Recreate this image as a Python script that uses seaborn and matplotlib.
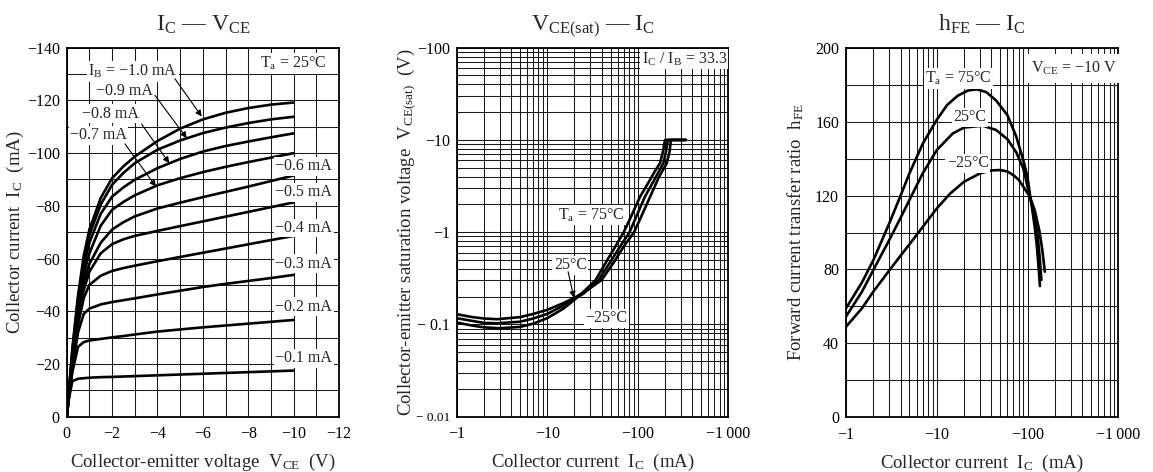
import numpy as np
import pandas as pd
import matplotlib
matplotlib.use("Agg")
import matplotlib.pyplot as plt
import seaborn as sns

# ---------------- data ----------------
# Left panel: IC - VCE (magnitudes; plotted as negative values)
vce = [0, 0.1, 0.25, 0.5, 0.75, 1, 1.5, 2, 2.5, 3, 4, 5, 6, 7, 8, 9, 10]
ib_labels = ["-1.0", "-0.9", "-0.8", "-0.7", "-0.6", "-0.5", "-0.4", "-0.3", "-0.2", "-0.1"]
ic_ib10 = [0, 10, 26, 46, 61, 71, 83, 90.5, 95, 98.7, 104.6, 109.3, 112.8, 115.3, 117.1, 118.4, 119.2]
ic_ib09 = [0, 10, 25, 45, 59, 69, 80.5, 88, 92.5, 96.2, 101.3, 104.8, 107.6, 109.7, 111.4, 112.8, 113.8]
ic_ib08 = [0, 9.5, 24, 43.5, 57, 66, 77, 83.5, 87, 89.9, 94.3, 97.8, 100.6, 102.7, 104.4, 106, 107.5]
ic_ib07 = [0, 9, 23, 42, 54, 62, 72.5, 78.5, 81.5, 84, 87.8, 90.5, 92.8, 94.8, 96.6, 98.3, 100]
ic_ib06 = [0, 9, 22, 40, 51, 58, 66, 71, 73.8, 76, 79, 81.2, 83.3, 85.3, 87.3, 89.4, 91.5]
ic_ib05 = [0, 8.5, 21, 38, 48, 55, 62, 65.5, 67.3, 68.6, 70.5, 72.3, 74.1, 75.9, 77.7, 79.5, 81.3]
ic_ib04 = [0, 8, 19.5, 35, 45, 50, 53.5, 55.3, 56.4, 57.3, 59, 60.6, 62.2, 63.8, 65.4, 67, 68.6]
ic_ib03 = [0, 8, 18.5, 32, 39, 41, 42.6, 43.5, 44.2, 44.9, 46.4, 47.8, 49.2, 50.4, 51.5, 52.6, 53.8]
ic_ib02 = [0, 7.5, 17, 26.5, 28.3, 28.9, 29.5, 30.1, 30.6, 31.2, 32.3, 33.1, 33.9, 34.6, 35.3, 36, 36.7]
ic_ib01 = [0, 7, 13.5, 14.4, 14.6, 14.8, 15.0, 15.1, 15.25, 15.4, 15.7, 16, 16.3, 16.6, 16.9, 17.2, 17.5]

# Middle panel: VCE(sat) - IC (magnitudes)
sat_ic_75 = [1, 1.5, 2, 3, 5, 7, 10, 15, 20, 25, 34, 45, 58, 70, 85, 106, 130, 155, 176, 190, 200, 340]
sat_v_75 = [0.105, 0.097, 0.093, 0.091, 0.094, 0.102, 0.117, 0.148, 0.185, 0.225, 0.30, 0.48, 0.73,
            1.0, 1.5, 2.43, 3.4, 4.6, 5.6, 7.5, 10, 10]
sat_ic_25 = [1, 1.5, 2, 2.8, 5, 7, 10, 15, 20, 25, 37, 50, 65, 81, 100, 120, 150, 192, 205, 215, 340]
sat_v_25 = [0.117, 0.109, 0.104, 0.103, 0.107, 0.116, 0.130, 0.160, 0.190, 0.215, 0.304, 0.48, 0.72,
            1.0, 1.61, 2.43, 3.6, 5.6, 7.5, 10, 10]
sat_ic_m25 = [1, 1.5, 2, 2.8, 5, 7, 10, 15, 20, 26, 40, 55, 70, 91, 110, 137, 170, 209, 225, 232, 340]
sat_v_m25 = [0.129, 0.120, 0.116, 0.114, 0.120, 0.130, 0.144, 0.170, 0.195, 0.225, 0.304, 0.48, 0.70,
             1.0, 1.5, 2.43, 3.9, 5.6, 7.5, 10, 10]

# Right panel: hFE - IC
hfe_ic_75 = [1, 1.5, 2, 3, 4, 5, 7, 10, 13, 17, 22, 27.5, 35, 45, 60, 75, 90, 100, 106, 113, 120, 127, 132, 137]
hfe_75 = [59, 73, 85, 105, 120, 132, 148, 161, 169, 174, 176.8, 177.5, 176, 171.5, 163.5, 152, 139, 130,
          121, 112, 103, 92, 82, 71]
hfe_ic_25 = [1, 1.5, 2, 3, 4, 5, 7, 10, 15, 20, 32, 45, 60, 75, 90, 106, 120, 130, 137, 142]
hfe_25 = [54.5, 68, 79.7, 96, 108, 117.6, 132, 144.6, 153.6, 156.8, 157.8, 155.5, 150.5, 143.5, 134.5,
          119.5, 109, 97, 85, 74.3]
hfe_ic_m25 = [1, 1.5, 2, 3, 4, 5, 7, 10, 14, 20, 30, 40, 50, 60, 70, 80, 90, 106, 120, 135, 145, 150, 155]
hfe_m25 = [49, 59, 68, 79.5, 87.5, 93.6, 103, 113, 121, 127.5, 132, 133.6, 133.8, 133, 131, 128.5, 124.8,
           119.4, 112, 101, 91, 85, 78.8]

# ---------------- style ----------------
sns.set_style("white")
plt.rcParams["font.family"] = ["Liberation Serif", "DejaVu Serif"]
plt.rcParams["mathtext.fontset"] = "stix"

W, H = 1153, 472
fig = plt.figure(figsize=(W / 100, H / 100), dpi=100)

GRID = dict(color="#1a1a1a", linewidth=0.75)
LW = 1.9
TICKFS = 11.5
LABFS = 13.5
TITLEFS = 17
BOX = dict(facecolor="white", edgecolor="none", pad=1.0)


def axes_px(x0, y0, x1, y1):
    return fig.add_axes([x0 / W, 1 - y1 / H, (x1 - x0) / W, (y1 - y0) / H])


def frame(ax):
    for s in ax.spines.values():
        s.set_visible(True)
        s.set_color("black")
        s.set_linewidth(1.3)
    ax.tick_params(which="both", length=0, labelsize=TICKFS, colors="black")
    ax.tick_params(axis="x", pad=7)
    ax.tick_params(axis="y", pad=5)


# ---------------- left panel ----------------
ax1 = axes_px(66.7, 47.7, 339, 416.7)
curves = [ic_ib10, ic_ib09, ic_ib08, ic_ib07, ic_ib06, ic_ib05, ic_ib04, ic_ib03, ic_ib02, ic_ib01]
rows = []
for lab, ic in zip(ib_labels, curves):
    for v, i in zip(vce, ic):
        rows.append({"curve": lab, "V": -v, "I": -i})
df1 = pd.DataFrame(rows)
sns.lineplot(data=df1, x="V", y="I", units="curve", estimator=None, color="black",
             linewidth=LW, ax=ax1, legend=False, zorder=3)
ax1.set_xlim(0, -12)
ax1.set_ylim(0, -140)
ax1.set_xticks(np.arange(0, -13, -1), minor=True)
ax1.set_yticks(np.arange(0, -141, -10), minor=True)
ax1.set_xticks(np.arange(0, -13, -2))
ax1.set_xticklabels(["0"] + [f"\u2212{k}" for k in range(2, 13, 2)])
ax1.set_yticks(np.arange(0, -141, -20))
ax1.set_yticklabels(["0"] + [f"\u2212{k}" for k in range(20, 141, 20)])
ax1.grid(True, which="both", **GRID)
ax1.set_axisbelow(True)
frame(ax1)
ax1.set_xlabel("Collector-emitter voltage  $\\mathregular{V_{CE}}$  (V)", fontsize=LABFS, labelpad=7)
ax1.set_ylabel("Collector current  $\\mathregular{I_C}$  (mA)", fontsize=LABFS, va="center")
ax1.yaxis.set_label_coords(-0.19, 0.5)
ax1.set_title("$\\mathregular{I_C}$ \u2014 $\\mathregular{V_{CE}}$", fontsize=TITLEFS, pad=12)

ax1.text(-8.5, -134, "$\\mathregular{T_a}$ = 25\u00b0C", fontsize=TICKFS, ha="left", va="center",
         bbox=BOX, zorder=4)
arrow = dict(arrowstyle="-|>", color="black", lw=0.8, mutation_scale=9, shrinkA=0, shrinkB=0)
left_notes = [
    ("$\\mathregular{I_B}$ = \u22121.0 mA", (-0.95, -131), (-4.77, -128.2), (-5.95, -113.9)),
    ("\u22120.9 mA", (-1.3, -123.7), (-3.89, -121.9), (-5.29, -105.7)),
    ("\u22120.8 mA", (-0.68, -115), (-3.3, -111), (-4.52, -96.2)),
    ("\u22120.7 mA", (-0.15, -106.7), (-2.57, -103.5), (-3.93, -87.3)),
]
for txt, pos, a0, a1 in left_notes:
    ax1.text(pos[0], pos[1], txt, fontsize=TICKFS, ha="left", va="center", bbox=BOX, zorder=4)
    ax1.annotate("", xy=a1, xytext=a0, arrowprops=arrow, zorder=5)
right_notes = [("\u22120.6 mA", -95), ("\u22120.5 mA", -85.2), ("\u22120.4 mA", -71.6),
               ("\u22120.3 mA", -58.1), ("\u22120.2 mA", -41.7), ("\u22120.1 mA", -22.1)]
for txt, y in right_notes:
    ax1.text(-9.2, y, txt, fontsize=TICKFS, ha="left", va="center", bbox=BOX, zorder=4)

# ---------------- middle panel ----------------
ax2 = axes_px(456.7, 47.7, 728.3, 416.7)
ax2.set_xscale("log")
ax2.set_yscale("log")
rows = []
for lab, xs, ys in [("75", sat_ic_75, sat_v_75), ("25", sat_ic_25, sat_v_25), ("-25", sat_ic_m25, sat_v_m25)]:
    for x, y in zip(xs, ys):
        rows.append({"curve": lab, "I": x, "V": y})
df2 = pd.DataFrame(rows)
sns.lineplot(data=df2, x="I", y="V", units="curve", estimator=None, color="black",
             linewidth=LW, ax=ax2, legend=False, zorder=3)
ax2.set_xlim(1, 1000)
ax2.set_ylim(0.01, 100)
ax2.xaxis.set_major_locator(matplotlib.ticker.FixedLocator([1, 10, 100, 1000]))
ax2.yaxis.set_major_locator(matplotlib.ticker.FixedLocator([0.01, 0.1, 1, 10, 100]))
ax2.xaxis.set_minor_locator(matplotlib.ticker.LogLocator(base=10, subs=np.arange(2, 10), numticks=20))
ax2.yaxis.set_minor_locator(matplotlib.ticker.LogLocator(base=10, subs=np.arange(2, 10), numticks=20))
ax2.xaxis.set_minor_formatter(matplotlib.ticker.NullFormatter())
ax2.yaxis.set_minor_formatter(matplotlib.ticker.NullFormatter())
ax2.set_xticklabels(["\u22121", "\u221210", "\u2212100", "\u22121\u2009000"])
ax2.set_yticklabels(["\u2212 0.01", "\u2212 0.1", "\u22121", "\u221210", "\u2212100"])
ax2.grid(True, which="both", **GRID)
ax2.set_axisbelow(True)
frame(ax2)
ax2.get_yticklabels()[0].set_fontsize(9.5)
ax2.set_xlabel("Collector current  $\\mathregular{I_C}$  (mA)", fontsize=LABFS, labelpad=7)
ax2.set_ylabel("Collector-emitter saturation voltage  $\\mathregular{V_{CE(sat)}}$  (V)",
               fontsize=LABFS, va="center")
ax2.yaxis.set_label_coords(-0.185, 0.5)
ax2.set_title("$\\mathregular{V_{CE(sat)}}$ \u2014 $\\mathregular{I_C}$", fontsize=TITLEFS, pad=12)
ax2.text(110, 75, "$\\mathregular{I_C}$ / $\\mathregular{I_B}$ = 33.3", fontsize=TICKFS,
         ha="left", va="center", bbox=BOX, zorder=4)
ax2.text(31, 1.53, "$\\mathregular{T_a}$ = 75\u00b0C", fontsize=TICKFS, ha="center", va="center",
         bbox=BOX, zorder=4)
ax2.text(18, 0.44, "25\u00b0C", fontsize=TICKFS, ha="center", va="center", bbox=BOX, zorder=4)
ax2.annotate("", xy=(19.7, 0.195), xytext=(17, 0.373), arrowprops=arrow, zorder=5)
ax2.text(45, 0.117, "\u221225\u00b0C", fontsize=TICKFS, ha="center", va="center", bbox=BOX, zorder=4)

# ---------------- right panel ----------------
ax3 = axes_px(846, 47.7, 1118.3, 417.3)
ax3.set_xscale("log")
rows = []
for lab, xs, ys in [("75", hfe_ic_75, hfe_75), ("25", hfe_ic_25, hfe_25), ("-25", hfe_ic_m25, hfe_m25)]:
    for x, y in zip(xs, ys):
        rows.append({"curve": lab, "I": x, "h": y})
df3 = pd.DataFrame(rows)
sns.lineplot(data=df3, x="I", y="h", units="curve", estimator=None, color="black",
             linewidth=LW, ax=ax3, legend=False, zorder=3)
ax3.set_xlim(1, 1000)
ax3.set_ylim(0, 200)
ax3.xaxis.set_major_locator(matplotlib.ticker.FixedLocator([1, 10, 100, 1000]))
ax3.xaxis.set_minor_locator(matplotlib.ticker.LogLocator(base=10, subs=np.arange(2, 10), numticks=20))
ax3.xaxis.set_minor_formatter(matplotlib.ticker.NullFormatter())
ax3.set_xticklabels(["\u22121", "\u221210", "\u2212100", "\u22121\u2009000"])
ax3.set_yticks(np.arange(0, 201, 20), minor=True)
ax3.set_yticks(np.arange(0, 201, 40))
ax3.set_yticklabels([str(k) for k in range(0, 201, 40)])
ax3.grid(True, which="both", **GRID)
ax3.set_axisbelow(True)
frame(ax3)
ax3.set_xlabel("Collector current  $\\mathregular{I_C}$  (mA)", fontsize=LABFS, labelpad=7)
ax3.set_ylabel("Forward current transfer ratio  $\\mathregular{h_{FE}}$", fontsize=LABFS, va="center")
ax3.yaxis.set_label_coords(-0.185, 0.5)
ax3.set_title("$\\mathregular{h_{FE}}$ \u2014 $\\mathregular{I_C}$", fontsize=TITLEFS, pad=12)
ax3.text(110, 188.8, "$\\mathregular{V_{CE}}$ = \u221210 V", fontsize=TICKFS, ha="left", va="center",
         bbox=dict(facecolor="white", edgecolor="none", pad=4), zorder=4)
ax3.text(17.3, 183.4, "$\\mathregular{T_a}$ = 75\u00b0C", fontsize=TICKFS, ha="center", va="center",
         bbox=BOX, zorder=4)
ax3.text(23.2, 162.3, "25\u00b0C", fontsize=TICKFS, ha="center", va="center", bbox=BOX, zorder=4)
ax3.text(22, 137.4, "\u221225\u00b0C", fontsize=TICKFS, ha="center", va="center", bbox=BOX, zorder=4)

fig.savefig("out.png", dpi=100)
